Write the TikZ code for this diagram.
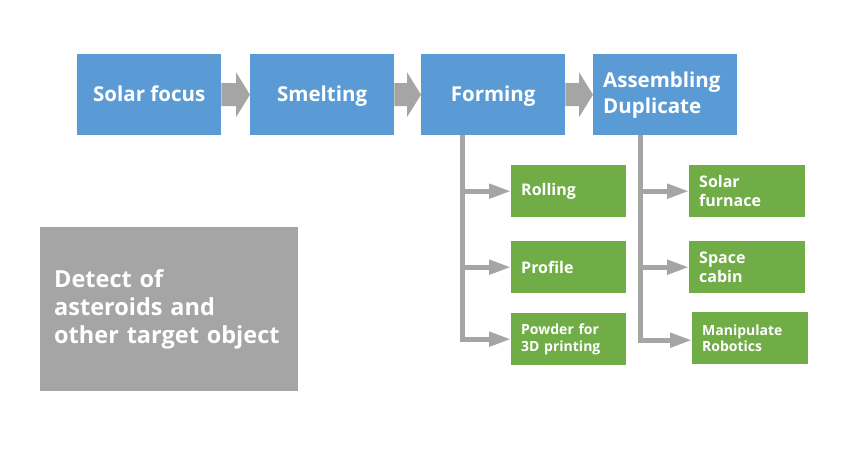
\documentclass[tikz,border=0pt]{standalone}
\usepackage{fontspec}
\setmainfont{Open Sans}
\usetikzlibrary{arrows.meta,calc}
\definecolor{boxblue}{HTML}{5B9BD5}
\definecolor{boxgreen}{HTML}{70AD47}
\definecolor{boxgray}{HTML}{A5A5A5}
\begin{document}
\begin{tikzpicture}[x=1pt,y=-1pt,
  topbox/.style={fill=boxblue,text=white,font=\fontsize{20.5}{26}\selectfont\bfseries,
    minimum width=144pt,minimum height=81pt,inner sep=0pt,anchor=north west,
    text height=17pt,text depth=3pt},
  subbox/.style={fill=boxgreen,text=white,font=\fontsize{16}{19.5}\selectfont\bfseries,
    minimum height=52pt,inner xsep=10pt,inner ysep=0pt,text width=95pt,align=left,anchor=north west},
  smallsub/.style={subbox,font=\fontsize{14}{16.5}\selectfont\bfseries},
  conn/.style={draw=boxgray,line width=5pt,-{Triangle[length=22pt,width=14pt]}},
  blockarrow/.style={fill=boxgray}]
\useasboundingbox (0,0) rectangle (868,457);
% top row
\node[topbox] (solar) at (77,54) {Solar focus};
\node[topbox] (smelt) at (250,54) {Smelting};
\node[topbox] (form) at (421,54) {Forming};
\node[fill=boxblue,text=white,font=\fontsize{20.5}{26}\selectfont\bfseries,
  inner ysep=0pt,minimum height=81pt,text width=124pt,inner xsep=10pt,align=left,
  anchor=north west] (assem) at (593,54) {Assembling\\Duplicate};
% block arrows
\foreach \a/\b in {solar/smelt,smelt/form,form/assem}{
  \fill[blockarrow] ([yshift=11.5pt]\a.east) -- ([xshift=-14pt,yshift=11.5pt]\b.west)
    -- ([xshift=-14pt,yshift=22.5pt]\b.west) -- (\b.west)
    -- ([xshift=-14pt,yshift=-22.5pt]\b.west) -- ([xshift=-14pt,yshift=-11.5pt]\b.west)
    -- ([yshift=-11.5pt]\a.east) -- cycle;
}
% sub boxes
\node[subbox] (roll) at (511,165) {Rolling};
\node[subbox] (prof) at (511,241) {Profile};
\node[smallsub] (powd) at (511,313) {Powder for\\3D printing};
\node[subbox,text width=96pt,inner xsep=10pt] (furn) at (689,165) {Solar\\furnace};
\node[subbox,text width=96pt,inner xsep=10pt] (cabin) at (689,241) {Space\\cabin};
\node[smallsub,text width=96pt,inner xsep=10pt] (robot) at (692,312) {Manipulate\\Robotics};
% connectors
\coordinate (fdown) at ([xshift=-31pt]form.south);
\coordinate (adown) at ([xshift=-25pt]assem.south);
\foreach \t in {roll,prof,powd}{ \draw[conn] (fdown) |- (\t.west); }
\draw[draw=boxgray,line width=5pt] (fdown) -- (fdown |- powd.west);
\foreach \t in {furn,cabin}{ \draw[conn] (adown) |- (\t.west); }
\draw[conn] (adown) |- ([yshift=-2pt]robot.west);
% gray box
\node[fill=boxgray,text=white,font=\fontsize{23.5}{28}\selectfont\bfseries,
  minimum width=258pt,minimum height=164pt,inner xsep=14pt,inner ysep=0pt,
  text width=230pt,align=left,anchor=north west] (detect) at (40,227)
  {Detect of\\asteroids and\\other target object};
\end{tikzpicture}
\end{document}
